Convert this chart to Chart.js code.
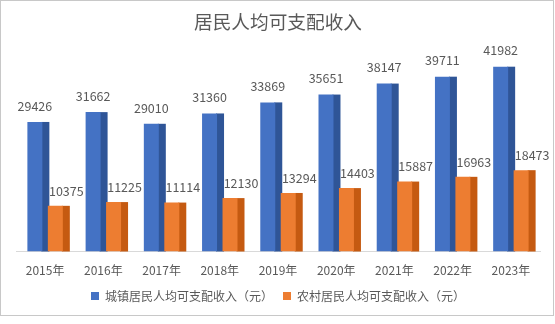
<!DOCTYPE html>
<html>
<head>
<meta charset="utf-8">
<script src="https://cdn.jsdelivr.net/npm/chart.js@4"></script>
<style>
  html, body { margin: 0; padding: 0; background: #fff; }
  canvas { display: block; }
</style>
</head>
<body>
<canvas id="myChart" width="555" height="324"></canvas>
<script>
const years = ["2015年", "2016年", "2017年", "2018年", "2019年", "2020年", "2021年", "2022年", "2023年"];
const urbanIncome = [29426, 31662, 29010, 31360, 33869, 35651, 38147, 39711, 41982];
const ruralIncome = [10375, 11225, 11114, 12130, 13294, 14403, 15887, 16963, 18473];

const textColor = "#595959";
Chart.defaults.font.family = "'Noto Sans CJK SC', 'Noto Sans', sans-serif";
Chart.defaults.color = textColor;

// dark right-hand face of each column, to mimic the 3D look
const sideColors = ["#2f5597", "#c55a11"];
const depth = 7;

const background = {
  id: "background",
  beforeDraw(chart) {
    const c = chart.ctx;
    c.save();
    c.fillStyle = "#fff";
    c.fillRect(0, 0, chart.width, chart.height);
    c.strokeStyle = "#c8c8c8";
    c.lineWidth = 1;
    c.strokeRect(0.5, 0.5, 553, 315);
    c.restore();
  }
};

const sideFaces = {
  id: "sideFaces",
  beforeDatasetsDraw(chart) {
    const c = chart.ctx;
    c.save();
    chart.data.datasets.forEach((ds, i) => {
      c.fillStyle = sideColors[i];
      chart.getDatasetMeta(i).data.forEach(bar => {
        const x = bar.x + bar.width / 2;
        c.fillRect(x - 1, bar.y, depth + 1, bar.base - bar.y);
      });
    });
    c.restore();
  }
};

const labelOffsetX = [0, 11];
const labelOffsetY = [16, 15];
const valueLabels = {
  id: "valueLabels",
  afterDatasetsDraw(chart) {
    const c = chart.ctx;
    c.save();
    c.font = "12.5px 'Noto Sans CJK SC', sans-serif";
    c.fillStyle = textColor;
    c.textAlign = "center";
    c.textBaseline = "middle";
    chart.data.datasets.forEach((ds, i) => {
      chart.getDatasetMeta(i).data.forEach((bar, j) => {
        c.fillText(ds.data[j], bar.x + labelOffsetX[i], bar.y - labelOffsetY[i]);
      });
    });
    c.restore();
  }
};

new Chart("myChart", {
  type: "bar",
  data: {
    labels: years,
    datasets: [
      {
        label: "城镇居民人均可支配收入（元）",
        data: urbanIncome,
        backgroundColor: "#4472c4",
        categoryPercentage: 0.703,
        barPercentage: 0.732
      },
      {
        label: "农村居民人均可支配收入（元）",
        data: ruralIncome,
        backgroundColor: "#ed7d31",
        categoryPercentage: 0.703,
        barPercentage: 0.732
      }
    ]
  },
  options: {
    responsive: false,
    animation: false,
    layout: { padding: { left: 16, right: 15, top: 0, bottom: 12 } },
    plugins: {
      title: {
        display: true,
        text: "居民人均可支配收入",
        color: textColor,
        font: { size: 18.67, weight: "normal" },
        padding: { top: 11, bottom: 20 }
      },
      legend: {
        position: "bottom",
        labels: {
          boxWidth: 8,
          boxHeight: 8,
          padding: 10,
          color: textColor,
          font: { size: 12 }
        }
      },
      tooltip: { enabled: false }
    },
    scales: {
      x: {
        grid: { display: false },
        border: { display: true, color: "#d9d9d9" },
        ticks: { padding: 4, color: textColor, font: { size: 12 } },
        afterFit(scale) { scale.height = 28.5; }
      },
      y: {
        display: false,
        min: 0,
        max: 45000
      }
    }
  },
  plugins: [background, sideFaces, valueLabels]
});
</script>
</body>
</html>
